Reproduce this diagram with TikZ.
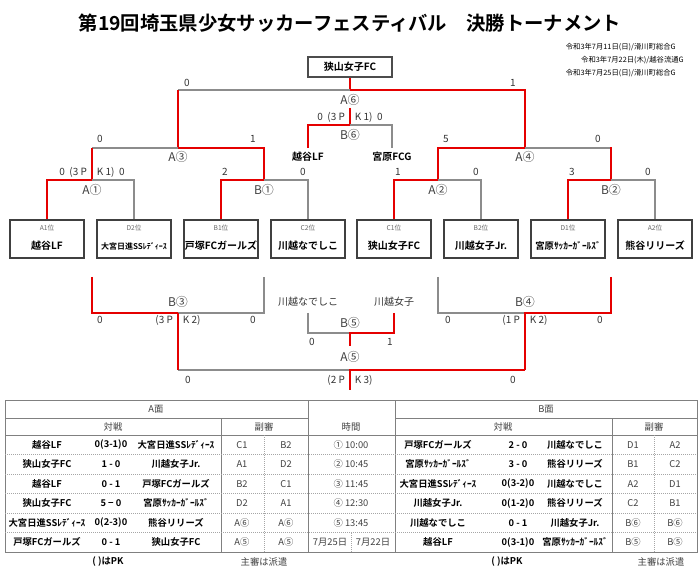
\documentclass[tikz,border=0pt]{standalone}
\usepackage{fontspec}
\setmainfont{Noto Sans CJK JP}
\newfontfamily\jpb{Noto Sans CJK JP Bold}
\begin{document}
\begin{tikzpicture}[x=0.75pt,y=-0.75pt,
  redl/.style={draw=red!90!black,line width=1.5pt},
  grayl/.style={draw=black!45,line width=0.8pt},
  lbl/.style={font=\fontsize{7.5}{8}\selectfont,text=black!80,inner sep=0pt},
  rnd/.style={font=\fontsize{9}{10}\selectfont,text=black!75,inner sep=0pt},
  tname/.style={font=\jpb\fontsize{7.5}{9}\selectfont,inner sep=0pt},
  team/.style={draw=black!75,line width=0.9pt,minimum width=55.5pt,minimum height=28.5pt,inner sep=0pt},
  subl/.style={font=\fontsize{5}{6}\selectfont,text=black!60,inner sep=0pt},
  cell/.style={font=\fontsize{7}{8}\selectfont,text=black!75,inner sep=0pt},
  cellb/.style={font=\jpb\fontsize{7}{8}\selectfont,inner sep=0pt},
  tl/.style={draw=black!50,line width=0.6pt},
  td/.style={draw=black!35,line width=0.5pt,densely dotted}]
\useasboundingbox (0,0) rectangle (700,577);
\node (title) at (350,23) {\jpb\fontsize{14.5}{16}\selectfont 第19回埼玉県少女サッカーフェスティバル\quad 決勝トーナメント};
\node[font=\fontsize{5.5}{6}\selectfont,anchor=east,inner sep=0pt] (d1) at (676,47) {令和3年7月11日(日)/滑川町総合G};
\node[font=\fontsize{5.5}{6}\selectfont,anchor=east,inner sep=0pt] (d2) at (684,60) {令和3年7月22日(木)/越谷流通G};
\node[font=\fontsize{5.5}{6}\selectfont,anchor=east,inner sep=0pt] (d3) at (676,73) {令和3年7月25日(日)/滑川町総合G};
% champion
\node[draw=black!70,line width=0.9pt,minimum width=63pt,minimum height=15pt,tname] (champ) at (350,67) {狭山女子FC};
% teams
\foreach \n/\x/\s/\t in {t1/47/A1位/越谷LF,t2/134/D2位/{\fontsize{6}{7}\selectfont 大宮日進SSﾚﾃﾞｨｰｽ},t3/221/B1位/戸塚FCガールズ,t4/308/C2位/川越なでしこ,t5/394/C1位/狭山女子FC,t6/481/B2位/川越女子Jr.,t7/568/D1位/{\fontsize{7}{7}\selectfont 宮原ｻｯｶｰｶﾞｰﾙｽﾞ},t8/655/A2位/熊谷リリーズ}{
  \node[team] (\n) at (\x,239) {};
  \node[subl] (\n s) at (\x,228) {\s};
  \node[tname] (\n n) at (\x,246) {\t};
}
% final
\draw[redl] (champ.south) -- (350,90) -- (525,90) -- (525,148);
\draw[grayl] (350,90) -- (178,90);
\draw[redl] (178,90) -- (178,148);
\node[lbl] (s1) at (187,83) {0}; \node[lbl] (s2) at (513,83) {1};
\node[rnd] (a6) at (350,100) {A⑥};
% B6 third place
\draw[redl] (350,108) -- (350,125) -- (308,125) -- (308,148);
\draw[grayl] (350,125) -- (392,125) -- (392,148);
\node[lbl] (s3) at (350,117) {0\ \ (3 P\quad K 1)\ \ 0};
\node[rnd] (b6) at (350,135) {B⑥};
\node[tname] (l1) at (308,157) {越谷LF};
\node[tname] (l2) at (392,157) {宮原FCG};
% semis
\draw[grayl] (92,148) -- (178,148); \draw[redl] (178,148) -- (264,148) -- (264,180);
\draw[redl] (92,148) -- (92,180);
\node[lbl] at (100,139) {0}; \node[lbl] at (253,139) {1};
\node[rnd] (a3) at (178,157) {A③};
\draw[redl] (438,180) -- (438,148) -- (525,148); \draw[grayl] (525,148) -- (611,148);
\draw[redl] (611,147.4) -- (611,180);
\node[lbl] at (446,139) {5}; \node[lbl] at (598,139) {0};
\node[rnd] (a4) at (525,157) {A④};
% QF
\draw[redl] (t1.north) -- (47,180) -- (92,180); \draw[grayl] (92,180) -- (134,180) -- (t2.north);
\node[lbl] at (92,172) {0\ \ (3 P\quad K 1)\ \ 0}; \node[rnd] at (92,190) {A①};
\draw[redl] (t3.north) -- (221,180) -- (264,180); \draw[grayl] (264,180) -- (308,180) -- (t4.north);
\node[lbl] at (225,172) {2}; \node[lbl] at (303,172) {0}; \node[rnd] at (264,190) {B①};
\draw[redl] (t5.north) -- (394,180) -- (438,180); \draw[grayl] (438,180) -- (481,180) -- (t6.north);
\node[lbl] at (398,172) {1}; \node[lbl] at (476,172) {0}; \node[rnd] at (438,190) {A②};
\draw[redl] (t7.north) -- (568,180) -- (611,180); \draw[grayl] (611,180) -- (655,180) -- (t8.north);
\node[lbl] at (572,172) {3}; \node[lbl] at (648,172) {0}; \node[rnd] at (611,190) {B②};
% lower bracket
\draw[redl] (92,277) -- (92,313) -- (178,313) -- (178,370);
\draw[grayl] (178,313) -- (264,313) -- (264,277);
\node[rnd] (b3) at (178,302) {B③};
\node[lbl] at (100,320) {0}; \node[lbl] at (178,320) {(3 P\quad K 2)}; \node[lbl] at (253,320) {0};
\draw[grayl] (438,277) -- (438,313) -- (525,313);
\draw[redl] (611,277) -- (611,313) -- (525,313) -- (525,370);
\node[rnd] (b4) at (525,302) {B④};
\node[lbl] at (448,320) {0}; \node[lbl] at (525,320) {(1 P\quad K 2)}; \node[lbl] at (600,320) {0};
\node[lbl] (k1) at (308,302) {川越なでしこ}; \node[lbl] (k2) at (394,302) {川越女子};
\draw[grayl] (308,313) -- (308,333) -- (350,333);
\draw[redl] (394,313) -- (394,333) -- (350,333) -- (350,346);
\node[rnd] (b5) at (350,323) {B⑤};
\node[lbl] at (312,342) {0}; \node[lbl] at (390,342) {1};
\node[rnd] (a5) at (350,357) {A⑤};
\draw[grayl] (178,370) -- (350,370);
\draw[redl] (525,370) -- (350,370) -- (350,390);
\draw[redl] (178,313) -- (178,370);
\node[lbl] at (188,380) {0}; \node[lbl] at (350,380) {(2 P\quad K 3)}; \node[lbl] at (513,380) {0};
% table
\draw[tl] (5,400) rectangle (697,552);
\draw[tl] (5,418) -- (308,418); \draw[tl] (395,418) -- (697,418);
\draw[tl] (5,435) -- (697,435);
\draw[tl] (308,400) -- (308,552); \draw[tl] (395,400) -- (395,552);
\draw[tl] (221,418) -- (221,552); \draw[tl] (612,418) -- (612,552);
\draw[td] (264,435) -- (264,552); \draw[td] (654,435) -- (654,552);
\draw[td] (351,533) -- (351,552);
\foreach \k in {1,...,5}{\draw[td] (5,435+19.5*\k) -- (697,435+19.5*\k);}
\node[cell] at (156,409) {A面}; \node[cell] at (546,409) {B面};
\node[cell] at (113,427) {対戦}; \node[cell] at (264,427) {副審}; \node[cell] at (351,427) {時間};
\node[cell] at (503,427) {対戦}; \node[cell] at (654,427) {副審};
\foreach \i/\a/\b/\c/\d/\e/\t/\f/\g/\h/\j/\k in {
 1/越谷LF/0(3-1)0/大宮日進SSﾚﾃﾞｨｰｽ/C1/B2/① 10:00/戸塚FCガールズ/2 - 0/川越なでしこ/D1/A2,
 2/狭山女子FC/1 - 0/川越女子Jr./A1/D2/② 10:45/宮原ｻｯｶｰｶﾞｰﾙｽﾞ/3 - 0/熊谷リリーズ/B1/C2,
 3/越谷LF/0 - 1/戸塚FCガールズ/B2/C1/③ 11:45/大宮日進SSﾚﾃﾞｨｰｽ/0(3-2)0/川越なでしこ/A2/D1,
 4/狭山女子FC/5 − 0/宮原ｻｯｶｰｶﾞｰﾙｽﾞ/D2/A1/④ 12:30/川越女子Jr./0(1-2)0/熊谷リリーズ/C2/B1,
 5/大宮日進SSﾚﾃﾞｨｰｽ/0(2-3)0/熊谷リリーズ/A⑥/A⑥/⑤ 13:45/川越なでしこ/0 - 1/川越女子Jr./B⑥/B⑥,
 6/戸塚FCガールズ/0 - 1/狭山女子FC/A⑤/A⑤//越谷LF/0(3-1)0/宮原ｻｯｶｰｶﾞｰﾙｽﾞ/B⑤/B⑤}{
  \pgfmathsetmacro\yy{435+19.5*(\i-0.5)}
  \node[cellb] at (47,\yy) {\a}; \node[cellb] at (111,\yy) {\b}; \node[cellb] at (176,\yy) {\c};
  \node[cell] at (242,\yy) {\d}; \node[cell] at (286,\yy) {\e}; \node[cell] at (351,\yy) {\t};
  \node[cellb] at (438,\yy) {\f}; \node[cellb] at (518,\yy) {\g}; \node[cellb] at (575,\yy) {\h};
  \node[cell] at (633,\yy) {\j}; \node[cell] at (675,\yy) {\k};
}
\node[cell] (dA) at (330,542.5) {7月25日}; \node[cell] (dB) at (373,542.5) {7月22日};
\node[cellb] (f1) at (108,562) {( )はPK}; \node[cell] (f2) at (264,562) {主審は派遣};
\node[cellb] (f3) at (507,562) {( )はPK}; \node[cell] (f4) at (661,562) {主審は派遣};
\end{tikzpicture}
\end{document}
